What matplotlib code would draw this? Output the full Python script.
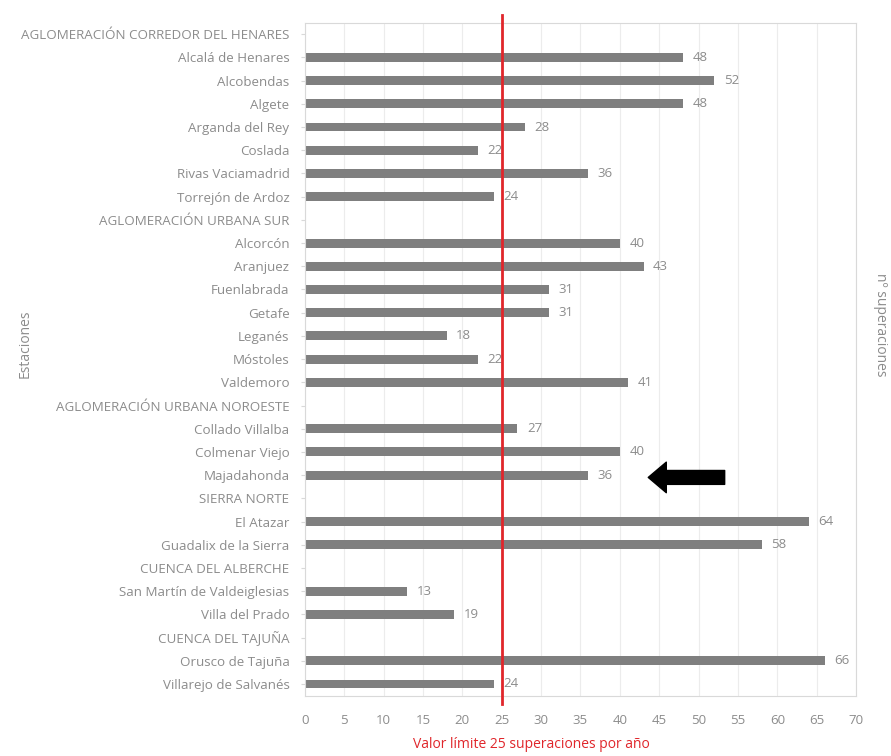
import numpy as np
import matplotlib
matplotlib.use("Agg")
import matplotlib.pyplot as plt
import matplotlib.transforms as mtransforms

plt.rcParams['font.family'] = ['Open Sans', 'DejaVu Sans']

# estaciones (cabeceras de zona sin barra)
estaciones = [
    "AGLOMERACIÓN CORREDOR DEL HENARES",
    "Alcalá de Henares", "Alcobendas", "Algete", "Arganda del Rey", "Coslada",
    "Rivas Vaciamadrid", "Torrejón de Ardoz",
    "AGLOMERACIÓN URBANA SUR",
    "Alcorcón", "Aranjuez", "Fuenlabrada", "Getafe", "Leganés", "Móstoles",
    "Valdemoro",
    "AGLOMERACIÓN URBANA NOROESTE",
    "Collado Villalba", "Colmenar Viejo", "Majadahonda",
    "SIERRA NORTE",
    "El Atazar", "Guadalix de la Sierra",
    "CUENCA DEL ALBERCHE",
    "San Martín de Valdeiglesias", "Villa del Prado",
    "CUENCA DEL TAJUÑA",
    "Orusco de Tajuña", "Villarejo de Salvanés",
]
superaciones = [
    None,
    48, 52, 48, 28, 22, 36, 24,
    None,
    40, 43, 31, 31, 18, 22, 41,
    None,
    27, 40, 36,
    None,
    64, 58,
    None,
    13, 19,
    None,
    66, 24,
]
valor_limite = 25
estacion_flecha = "Majadahonda"
xticks = list(range(0, 75, 5))

gris_txt = '#8c8c8c'
gris_barra = '#7f7f7f'

fig = plt.figure(figsize=(8.91, 7.56), dpi=100)
ax = fig.add_axes([0.342, 0.080, 0.619, 0.890])

y = np.arange(len(estaciones))
vals = [v if v is not None else 0 for v in superaciones]
ax.barh(y, vals, height=0.38, color=gris_barra, zorder=2)

# etiquetas de valor
for yi, v in zip(y, superaciones):
    if v is not None:
        ax.text(v + 1.2, yi, str(v), va='center', ha='left', fontsize=9.5,
                color=gris_txt, zorder=3)

# linea del valor limite
trans = mtransforms.blended_transform_factory(ax.transData, ax.transAxes)
ax.plot([valor_limite, valor_limite], [-0.012, 1.012], color='#e0262b',
        lw=2, transform=trans, clip_on=False, zorder=4)

ax.set_ylim(len(estaciones) - 0.5, -0.5)
ax.set_xlim(0, 70)
ax.set_yticks(y)
ax.set_yticklabels(estaciones, fontsize=9.6, color=gris_txt)
ax.set_xticks(xticks)
ax.set_xticklabels([str(t) for t in xticks], fontsize=9.5, color=gris_txt)
ax.tick_params(axis='x', length=0, pad=13)
ax.tick_params(axis='y', length=3, color='#d9d9d9', pad=8)

ax.grid(axis='x', color='#ececec', lw=0.8, zorder=0)
for s in ax.spines.values():
    s.set_color('#d9d9d9')
    s.set_linewidth(0.8)

# flecha
yf = estaciones.index(estacion_flecha)
ax.annotate('', xy=(43.6, yf + 0.1), xytext=(53.3, yf + 0.1),
            arrowprops=dict(arrowstyle='simple,head_length=0.65,head_width=1.1,tail_width=0.5',
                            color='black', mutation_scale=20, shrinkA=0, shrinkB=0),
            zorder=5)

fig.text(0.028, 0.545, 'Estaciones', rotation=90, ha='center', va='center',
         fontsize=10, color=gris_txt)
fig.text(0.988, 0.57, 'nº superaciones', rotation=270, ha='center', va='center',
         fontsize=10, color=gris_txt)
fig.text(0.596, 0.015, 'Valor límite 25 superaciones por año', ha='center',
         va='center', fontsize=10, color='#e0262b')

fig.savefig('out.png', dpi=100)
